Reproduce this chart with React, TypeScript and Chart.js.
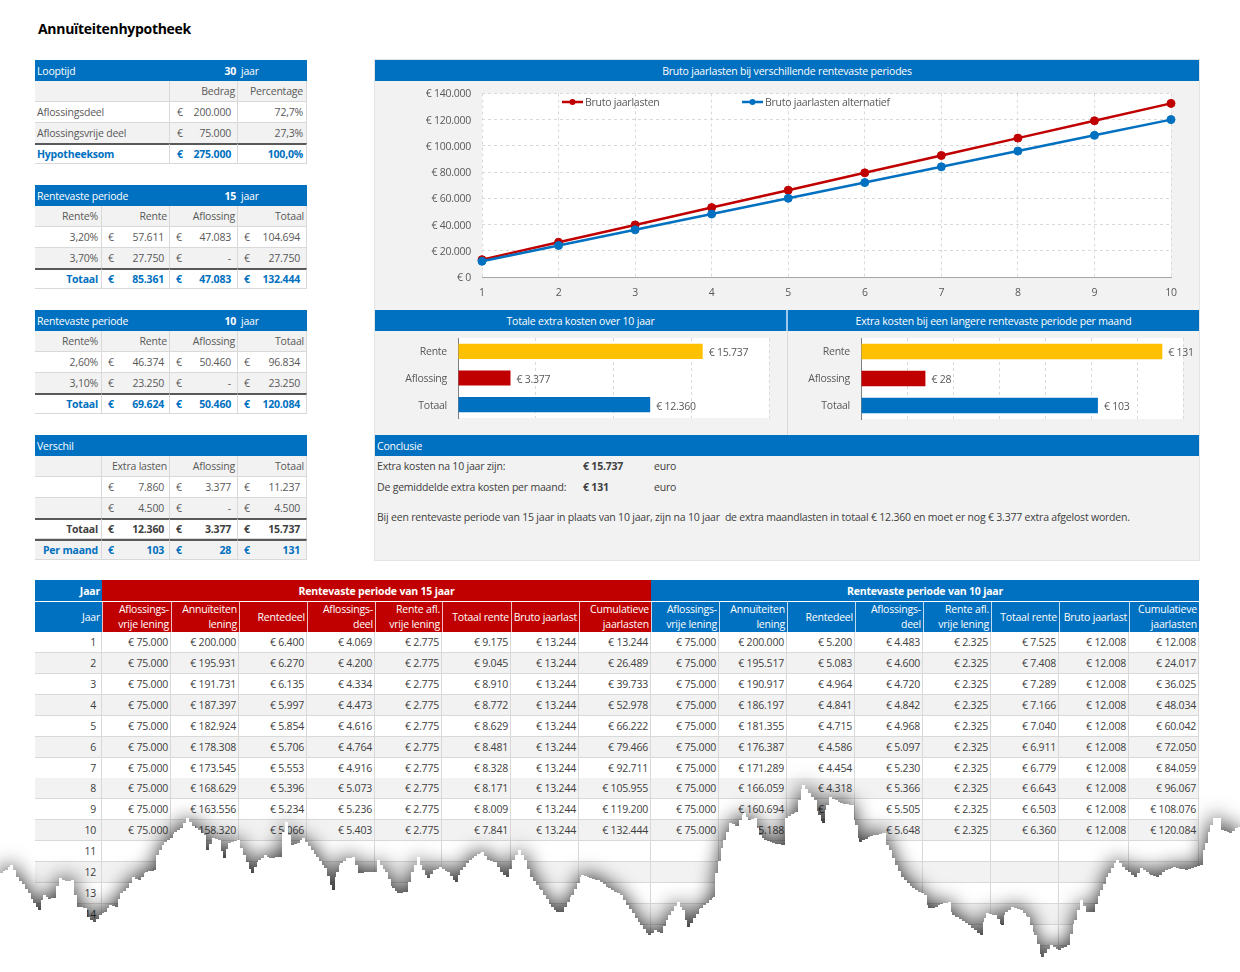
import { useEffect, useRef } from "react";
import { Chart, registerables } from "chart.js";

Chart.register(...registerables);

const FONT = '"Open Sans", sans-serif';
const FONT_SIZE = 10.5;
const BLUE = "#0070C0";
const RED = "#C00000";
const YELLOW = "#FFC000";
const GREY = "#F2F2F2";
const LINE = "#D9D9D9";
const TEXT = "#595959";

// jaar tabel, 15 jaar
const jaren = [1, 2, 3, 4, 5, 6, 7, 8, 9, 10, 11, 12, 13, 14, 15, 16];
const vrij15 = [75000, 75000, 75000, 75000, 75000, 75000, 75000, 75000, 75000, 75000];
const annu15 = [200000, 195931, 191731, 187397, 182924, 178308, 173545, 168629, 163556, 158320];
const rentedeel15 = [6400, 6270, 6135, 5997, 5854, 5706, 5553, 5396, 5234, 5066];
const aflos15 = [4069, 4200, 4334, 4473, 4616, 4764, 4916, 5073, 5236, 5403];
const renteVrij15 = [2775, 2775, 2775, 2775, 2775, 2775, 2775, 2775, 2775, 2775];
const totaal15 = [9175, 9045, 8910, 8772, 8629, 8481, 8328, 8171, 8009, 7841];
const bruto15 = [13244, 13244, 13244, 13244, 13244, 13244, 13244, 13244, 13244, 13244];
const cumul15 = [13244, 26489, 39733, 52978, 66222, 79466, 92711, 105955, 119200, 132444];

// jaar tabel, 10 jaar
const vrij10 = [75000, 75000, 75000, 75000, 75000, 75000, 75000, 75000, 75000, 75000];
const annu10 = [200000, 195517, 190917, 186197, 181355, 176387, 171289, 166059, 160694, 155188];
const rentedeel10 = [5200, 5083, 4964, 4841, 4715, 4586, 4454, 4318, 4178, 4035];
const aflos10 = [4483, 4600, 4720, 4842, 4968, 5097, 5230, 5366, 5505, 5648];
const renteVrij10 = [2325, 2325, 2325, 2325, 2325, 2325, 2325, 2325, 2325, 2325];
const totaal10 = [7525, 7408, 7289, 7166, 7040, 6911, 6779, 6643, 6503, 6360];
const bruto10 = [12008, 12008, 12008, 12008, 12008, 12008, 12008, 12008, 12008, 12008];
const cumul10 = [12008, 24017, 36025, 48034, 60042, 72050, 84059, 96067, 108076, 120084];

const kolomKoppen = [
  ["Aflossings-", "vrije lening"],
  ["Annuïteiten", "lening"],
  ["Rentedeel"],
  ["Aflossings-", "deel"],
  ["Rente afl.", "vrije lening"],
  ["Totaal rente"],
  ["Bruto jaarlast"],
  ["Cumulatieve", "jaarlasten"],
];

// grafieken
const lineLabels = ["1", "2", "3", "4", "5", "6", "7", "8", "9", "10"];
const barLabels = ["Rente", "Aflossing", "Totaal"];
const barTotaal = [15737, 3377, 12360];
const barPerMaand = [131, 28, 103];

// gescheurde rand onderaan (decoratie)
const tornEdge = [
  [0, 873], [5, 870], [10, 865], [13, 870], [16, 877], [22, 884], [28, 893], [33, 903], [38, 910], [41, 900], [43, 895],
  [48, 899], [53, 898], [56, 886], [59, 878], [65, 881], [71, 880], [74, 895], [77, 907], [85, 908], [87, 917], [93, 922],
  [99, 915], [104, 912], [109, 905], [115, 907], [120, 893], [126, 888], [132, 877], [138, 880], [145, 872], [154, 870],
  [156, 855], [164, 842], [170, 838], [174, 832], [180, 828], [186, 818], [192, 826], [198, 830], [204, 835], [206, 850],
  [212, 838], [218, 840], [223, 858], [228, 843], [237, 840], [243, 855], [251, 873], [258, 860], [264, 855], [269, 858],
  [279, 857], [282, 832], [285, 822], [288, 835], [291, 845], [297, 843], [302, 838], [308, 846], [316, 857], [324, 868],
  [332, 890], [336, 872], [340, 863], [346, 858], [352, 857], [358, 873], [366, 872], [374, 872], [377, 860], [385, 872],
  [392, 888], [397, 893], [405, 892], [411, 872], [417, 857], [422, 870], [427, 878], [433, 870], [439, 867], [447, 872],
  [455, 882], [460, 870], [466, 863], [474, 856], [481, 852], [487, 860], [494, 862], [500, 872], [506, 877], [512, 860],
  [518, 850], [524, 860], [530, 877], [540, 890], [551, 907], [556, 912], [561, 912], [571, 895], [581, 875], [589, 878],
  [597, 880], [608, 888], [620, 895], [626, 905], [632, 913], [640, 925], [648, 935], [654, 930], [660, 933], [668, 915],
  [677, 902], [682, 910], [687, 927], [700, 908], [713, 897], [715, 873], [723, 840], [729, 823], [736, 826], [743, 813],
  [748, 820], [754, 818], [759, 835], [764, 840], [772, 843], [782, 845], [785, 818], [795, 812], [802, 785], [808, 793],
  [814, 800], [818, 815], [822, 823], [826, 805], [829, 797], [840, 803], [851, 805], [855, 825], [859, 842], [870, 836],
  [883, 833], [886, 845], [889, 850], [895, 865], [901, 877], [912, 888], [924, 895], [928, 908], [932, 908], [940, 904],
  [948, 902], [952, 915], [956, 917], [968, 925], [980, 935], [984, 918], [986, 913], [994, 915], [1001, 925], [1005, 912],
  [1011, 907], [1020, 910], [1027, 917], [1034, 935], [1041, 957], [1050, 945], [1058, 950], [1067, 945], [1074, 920],
  [1080, 900], [1086, 912], [1092, 912], [1100, 890], [1108, 873], [1116, 860], [1125, 870], [1134, 877], [1140, 868],
  [1150, 875], [1156, 877], [1165, 870], [1173, 867], [1185, 870], [1201, 865], [1203, 850], [1205, 843], [1210, 825],
  [1213, 818], [1219, 818], [1221, 830], [1229, 833], [1235, 828], [1240, 827],
];

const num = (v: number) => String(v).replace(/\B(?=(\d{3})+$)/g, ".");
const euro = (v: number) => "€ " + num(v);

// witte plot achtergrond, en iets smallere letters
const plotBackground = {
  id: "plotBackground",
  beforeDraw(chart: any) {
    const { ctx, chartArea: a } = chart;
    ctx.letterSpacing = "-0.25px";
    ctx.save();
    ctx.fillStyle = "#fff";
    ctx.fillRect(a.left, a.top, a.width, a.height);
    ctx.restore();
  },
};

const barValues = {
  id: "barValues",
  afterDatasetsDraw(chart: any) {
    const { ctx } = chart;
    const values = chart.data.datasets[0].data;
    ctx.save();
    ctx.font = `${FONT_SIZE}px ${FONT}`;
    ctx.fillStyle = TEXT;
    ctx.textBaseline = "middle";
    chart.getDatasetMeta(0).data.forEach((bar: any, i: number) => {
      ctx.fillText(euro(values[i]), bar.x + 6, bar.y + 2);
    });
    ctx.restore();
  },
};

// legenda binnen de plot
const lineLegend = {
  id: "lineLegend",
  afterDraw(chart: any) {
    const { ctx } = chart;
    const starts = [187, 367];
    ctx.save();
    ctx.font = `${FONT_SIZE}px ${FONT}`;
    ctx.textBaseline = "middle";
    chart.data.datasets.forEach((ds: any, i: number) => {
      const x = starts[i];
      const y = 21;
      ctx.strokeStyle = ds.borderColor;
      ctx.lineWidth = 2.5;
      ctx.beginPath();
      ctx.moveTo(x, y);
      ctx.lineTo(x + 21, y);
      ctx.stroke();
      ctx.fillStyle = ds.borderColor;
      ctx.beginPath();
      ctx.arc(x + 10.5, y, 3, 0, Math.PI * 2);
      ctx.fill();
      ctx.fillStyle = TEXT;
      ctx.fillText(ds.label, x + 23, y + 1);
    });
    ctx.restore();
  },
};

const lineConfig: any = {
  type: "line",
  data: {
    labels: lineLabels,
    datasets: [
      {
        label: "Bruto jaarlasten",
        data: cumul15,
        borderColor: RED,
        backgroundColor: RED,
        order: 2,
      },
      {
        label: "Bruto jaarlasten alternatief",
        data: cumul10,
        borderColor: BLUE,
        backgroundColor: BLUE,
        order: 1,
      },
    ],
  },
  options: {
    responsive: false,
    animation: false,
    layout: { padding: { left: 0, right: 28, top: 12.5, bottom: 0 } },
    elements: {
      line: { borderWidth: 2.5, tension: 0 },
      point: { radius: 4, borderWidth: 1, borderColor: "#fff" },
    },
    clip: false,
    plugins: { legend: { display: false }, tooltip: { enabled: false } },
    scales: {
      x: {
        offset: false,
        afterFit: (s: any) => (s.height = 33),
        grid: { color: LINE, tickLength: 0 },
        border: { color: "#A6A6A6", dash: [3, 3] },
        ticks: { color: TEXT, padding: 10, font: { size: FONT_SIZE, family: FONT }, maxRotation: 0 },
      },
      y: {
        min: 0,
        max: 140000,
        afterFit: (s: any) => (s.width = 107),
        // ticks.padding telt ook mee als ruimte boven de plot, dus tickLength voor de afstand
        grid: { color: LINE, tickLength: 11, tickColor: "transparent" },
        border: { display: false, dash: [3, 3] },
        ticks: { stepSize: 20000, color: TEXT, padding: 0, labelOffset: 1, font: { size: FONT_SIZE, family: FONT }, callback: (v: any) => euro(v) },
      },
    },
  },
  plugins: [plotBackground, lineLegend],
};

const barConfig = (values: number[], max: number, step: number, padding: any, axisWidth: number): any => ({
  type: "bar",
  data: {
    labels: barLabels,
    datasets: [
      {
        data: values,
        backgroundColor: [YELLOW, RED, BLUE],
        categoryPercentage: 1,
        barPercentage: 0.57,
      },
    ],
  },
  options: {
    indexAxis: "y",
    responsive: false,
    animation: false,
    layout: { padding },
    plugins: { legend: { display: false }, tooltip: { enabled: false } },
    scales: {
      x: {
        min: 0,
        max,
        afterFit: (s: any) => (s.height = 0),
        grid: { color: LINE, tickLength: 0 },
        border: { display: false, dash: [3, 3] },
        ticks: { display: false, stepSize: step },
      },
      y: {
        afterFit: (s: any) => (s.width = axisWidth),
        grid: { display: false, tickLength: 11 },
        border: { color: "#7F7F7F" },
        ticks: { color: TEXT, padding: 0, labelOffset: 1, font: { size: FONT_SIZE, family: FONT } },
      },
    },
  },
  plugins: [plotBackground, barValues],
});

function ChartCanvas({ config, x, y, w, h }: any) {
  const ref = useRef<HTMLCanvasElement | null>(null);
  useEffect(() => {
    if (!ref.current) return;
    const chart = new Chart(ref.current, config);
    return () => chart.destroy();
  }, []);
  return <canvas ref={ref} width={w} height={h} style={{ position: "absolute", left: x, top: y, width: w, height: h }} />;
}

// losse spreadsheet cel
function Cell({ x0, x1, y, h, bg, color, bold, align, euroSign, euroPad, pad, borderTop, children }: any) {
  return (
    <div
      style={{
        position: "absolute",
        left: x0,
        top: y,
        width: x1 - x0,
        height: h,
        boxSizing: "border-box",
        background: bg,
        color: color || TEXT,
        fontWeight: bold ? 700 : 400,
        lineHeight: h - (borderTop ? 3 : 1) + "px",
        textAlign: align || "right",
        whiteSpace: "pre",
        paddingRight: align === "left" ? 0 : pad ?? 2,
        paddingLeft: align === "left" ? pad ?? 2 : 0,
        borderRight: `1px solid ${LINE}`,
        borderBottom: `1px solid ${LINE}`,
        borderTop: borderTop ? "2px solid #595959" : "none",
      }}
    >
      {euroSign && <span style={{ position: "absolute", left: euroPad ?? 6, top: 0 }}>€</span>}
      {children}
    </div>
  );
}

function Band({ x0, x1, y, h, bg, children }: any) {
  return (
    <div
      style={{
        position: "absolute",
        left: x0,
        top: y,
        width: x1 - x0,
        height: h,
        background: bg || BLUE,
        color: "#fff",
        lineHeight: h + 1 + "px",
        whiteSpace: "pre",
      }}
    >
      {children}
    </div>
  );
}

function Header({ y, title, years }: any) {
  return (
    <Band x0={35} x1={307} y={y} h={21}>
      <span style={{ position: "absolute", left: 2 }}>{title}</span>
      {years && <b style={{ position: "absolute", right: 71 }}>{years}</b>}
      {years && <span style={{ position: "absolute", left: 206 }}>jaar</span>}
    </Band>
  );
}

const EDGES = [35, 102, 170, 238, 307];

function MoneyRow({ y, label, values, bg, color, bold, labelColor, top, pads = [5, 6, 6] }: any) {
  return (
    <>
      <Cell x0={EDGES[0]} x1={EDGES[1]} y={y} h={21} bg={bg} color={labelColor || color} bold={bold} borderTop={top} pad={3}>
        {label}
      </Cell>
      {values.map((v: string, i: number) => (
        <Cell key={i} x0={EDGES[i + 1]} x1={EDGES[i + 2]} y={y} h={21} bg={bg} color={color} bold={bold} borderTop={top} euroSign pad={pads[i]}>
          {v}
        </Cell>
      ))}
    </>
  );
}

function HeadRow({ y, heads }: any) {
  return (
    <>
      {heads.map((t: string, i: number) => (
        <Cell key={i} x0={EDGES[i]} x1={EDGES[i + 1]} y={y} h={21} bg={GREY} pad={i === 0 ? 3 : 2}>
          {t}
        </Cell>
      ))}
    </>
  );
}

const COLS = [35, 102, 171, 239, 307, 375, 442, 511, 579, 651, 719, 787, 855, 923, 991, 1059, 1129, 1199];

function JaarTabel() {
  const series = [vrij15, annu15, rentedeel15, aflos15, renteVrij15, totaal15, bruto15, cumul15, vrij10, annu10, rentedeel10, aflos10, renteVrij10, totaal10, bruto10, cumul10];
  return (
    <>
      <Band x0={35} x1={102} y={580} h={21}>
        <b style={{ position: "absolute", right: 2 }}>Jaar</b>
      </Band>
      <Band x0={102} x1={651} y={580} h={21} bg={RED}>
        <b style={{ display: "block", textAlign: "center" }}>Rentevaste periode van 15 jaar</b>
      </Band>
      <Band x0={651} x1={1199} y={580} h={21}>
        <b style={{ display: "block", textAlign: "center" }}>Rentevaste periode van 10 jaar</b>
      </Band>
      <Band x0={35} x1={102} y={602} h={30}>
        <span style={{ position: "absolute", right: 2 }}>Jaar</span>
      </Band>
      {series.map((_, c) => {
        const head = kolomKoppen[c % 8];
        return (
          <div
            key={c}
            style={{
              position: "absolute",
              left: COLS[c + 1],
              top: 602,
              width: COLS[c + 2] - COLS[c + 1],
              height: 30,
              background: c < 8 ? RED : BLUE,
              color: "#fff",
              textAlign: "right",
              whiteSpace: "nowrap",
              lineHeight: head.length > 1 ? "15px" : "30px",
              paddingRight: 2,
              boxSizing: "border-box",
              borderLeft: "1px solid rgba(255,255,255,0.75)",
            }}
          >
            {head.map((t) => (
              <div key={t}>{t}</div>
            ))}
          </div>
        );
      })}
      {jaren.map((j, r) => {
        const y = 632 + r * 20.92;
        const bg = r % 2 ? GREY : "#fff";
        return (
          <div key={j}>
            <Cell x0={COLS[0]} x1={COLS[1]} y={y} h={21} bg={bg} color="#404040" pad={5}>
              {j}
            </Cell>
            {series.map((s, c) => (
              <Cell key={c} x0={COLS[c + 1]} x1={COLS[c + 2]} y={y} h={21} bg={bg} color="#404040" pad={2}>
                {r < s.length ? euro(s[r]) : ""}
              </Cell>
            ))}
          </div>
        );
      })}
    </>
  );
}

function Text({ x, y, bold, children }: any) {
  return (
    <div style={{ position: "absolute", left: x, top: y - 10, lineHeight: "20px", color: "#404040", fontWeight: bold ? 700 : 400, whiteSpace: "pre" }}>
      {children}
    </div>
  );
}

// rand in kleine trapjes van 3px, zoals de uitgeknipte rand in het plaatje
function edgeToPath() {
  let d = "M0 972 V" + tornEdge[0][1];
  for (let i = 1; i < tornEdge.length; i++) {
    const [x0, y0] = tornEdge[i - 1];
    const [x1, y1] = tornEdge[i];
    for (let x = x0 + 3; x < x1; x += 3) {
      d += ` H${x} V${Math.round(y0 + ((y1 - y0) * (x - x0)) / (x1 - x0))}`;
    }
    d += ` H${x1} V${y1}`;
  }
  return d + " H1240 V972 Z";
}

export default function App() {
  return (
    <div style={{ position: "absolute", left: 0, top: 0, width: 1240, height: 972, overflow: "hidden", background: "#fff", fontFamily: FONT, fontSize: FONT_SIZE, letterSpacing: "-0.2px" }}>
      <div style={{ position: "absolute", left: 38, top: 19, fontSize: 14, lineHeight: "20px", fontWeight: 700, color: "#000", letterSpacing: "-0.3px" }}>Annuïteitenhypotheek</div>

      {/* Looptijd */}
      <Header y={60} title="Looptijd" years="30" />
      <Cell x0={35} x1={170} y={81} h={21} bg={GREY} />
      <Cell x0={170} x1={238} y={81} h={21} bg={GREY}>Bedrag</Cell>
      <Cell x0={238} x1={307} y={81} h={21} bg={GREY} pad={3}>Percentage</Cell>
      <Cell x0={35} x1={170} y={102} h={21} bg="#fff" align="left">Aflossingsdeel</Cell>
      <Cell x0={170} x1={238} y={102} h={21} bg="#fff" euroSign euroPad={7} pad={6}>200.000</Cell>
      <Cell x0={238} x1={307} y={102} h={21} bg="#fff" pad={3}>72,7%</Cell>
      <Cell x0={35} x1={170} y={123} h={21} bg={GREY} align="left">Aflossingsvrije deel</Cell>
      <Cell x0={170} x1={238} y={123} h={21} bg={GREY} euroSign euroPad={7} pad={6}>75.000</Cell>
      <Cell x0={238} x1={307} y={123} h={21} bg={GREY} pad={3}>27,3%</Cell>
      <Cell x0={35} x1={170} y={143} h={21} bg="#fff" align="left" color={BLUE} bold borderTop>Hypotheeksom</Cell>
      <Cell x0={170} x1={238} y={143} h={21} bg="#fff" color={BLUE} bold borderTop euroSign euroPad={7} pad={6}>275.000</Cell>
      <Cell x0={238} x1={307} y={143} h={21} bg="#fff" color={BLUE} bold borderTop pad={3}>100,0%</Cell>

      {/* Rentevaste periode 15 */}
      <Header y={185} title="Rentevaste periode" years="15" />
      <HeadRow y={206} heads={["Rente%", "Rente", "Aflossing", "Totaal"]} />
      <MoneyRow y={227} bg="#fff" label="3,20%" values={["57.611", "47.083", "104.694"]} />
      <MoneyRow y={248} bg={GREY} label="3,70%" values={["27.750", "-", "27.750"]} />
      <MoneyRow y={268} bg="#fff" top bold color={BLUE} label="Totaal" values={["85.361", "47.083", "132.444"]} />

      {/* Rentevaste periode 10 */}
      <Header y={310} title="Rentevaste periode" years="10" />
      <HeadRow y={331} heads={["Rente%", "Rente", "Aflossing", "Totaal"]} />
      <MoneyRow y={352} bg="#fff" label="2,60%" values={["46.374", "50.460", "96.834"]} />
      <MoneyRow y={373} bg={GREY} label="3,10%" values={["23.250", "-", "23.250"]} />
      <MoneyRow y={393} bg="#fff" top bold color={BLUE} label="Totaal" values={["69.624", "50.460", "120.084"]} />

      {/* Verschil */}
      <Header y={435} title="Verschil" />
      <HeadRow y={456} heads={["", "Extra lasten", "Aflossing", "Totaal"]} />
      <MoneyRow y={477} bg="#fff" label="" values={["7.860", "3.377", "11.237"]} />
      <MoneyRow y={498} bg={GREY} label="" values={["4.500", "-", "4.500"]} />
      <MoneyRow y={518} bg="#fff" top bold color="#404040" label="Totaal" values={["12.360", "3.377", "15.737"]} />
      <MoneyRow y={539} bg={GREY} top bold color={BLUE} label="Per maand" values={["103", "28", "131"]} />

      {/* rechter paneel */}
      <div style={{ position: "absolute", left: 375, top: 60, width: 824, height: 500, background: GREY, outline: "1px solid #E4E4E4" }} />
      <Band x0={375} x1={1199} y={60} h={21}>
        <div style={{ textAlign: "center" }}>Bruto jaarlasten bij verschillende rentevaste periodes</div>
      </Band>
      <ChartCanvas config={lineConfig} x={375} y={81} w={824} h={229} />

      <Band x0={375} x1={786} y={310} h={21}>
        <div style={{ textAlign: "center" }}>Totale extra kosten over 10 jaar</div>
      </Band>
      <Band x0={788} x1={1199} y={310} h={21}>
        <div style={{ textAlign: "center" }}>Extra kosten bij een langere rentevaste periode per maand</div>
      </Band>
      <div style={{ position: "absolute", left: 786, top: 310, width: 2, height: 21, background: "#9CC9EC" }} />
      <div style={{ position: "absolute", left: 787, top: 331, width: 1, height: 104, background: LINE }} />
      <ChartCanvas config={barConfig(barTotaal, 20000, 5000, { left: 0, right: 17, top: 7, bottom: 17 }, 83)} x={375} y={331} w={411} h={104} />
      <ChartCanvas config={barConfig(barPerMaand, 140, 20, { left: 0, right: 16, top: 7, bottom: 16 }, 73)} x={788} y={331} w={411} h={104} />

      <Band x0={375} x1={1199} y={435} h={21}>
        <span style={{ position: "absolute", left: 2 }}>Conclusie</span>
      </Band>
      <Text x={377} y={466}>Extra kosten na 10 jaar zijn:</Text>
      <Text x={583} y={466} bold>€ 15.737</Text>
      <Text x={654} y={466}>euro</Text>
      <Text x={377} y={487}>De gemiddelde extra kosten per maand:</Text>
      <Text x={583} y={487} bold>€ 131</Text>
      <Text x={654} y={487}>euro</Text>
      <Text x={377} y={517}>Bij een rentevaste periode van 15 jaar in plaats van 10 jaar, zijn na 10 jaar  de extra maandlasten in totaal € 12.360 en moet er nog € 3.377 extra afgelost worden.</Text>

      <JaarTabel />

      {/* gescheurde rand */}
      <svg width={1240} height={972} style={{ position: "absolute", left: 0, top: 0, filter: "drop-shadow(0 -2px 10px rgba(0,0,0,0.8))" }}>
        <path d={edgeToPath()} fill="#fff" />
      </svg>
    </div>
  );
}
